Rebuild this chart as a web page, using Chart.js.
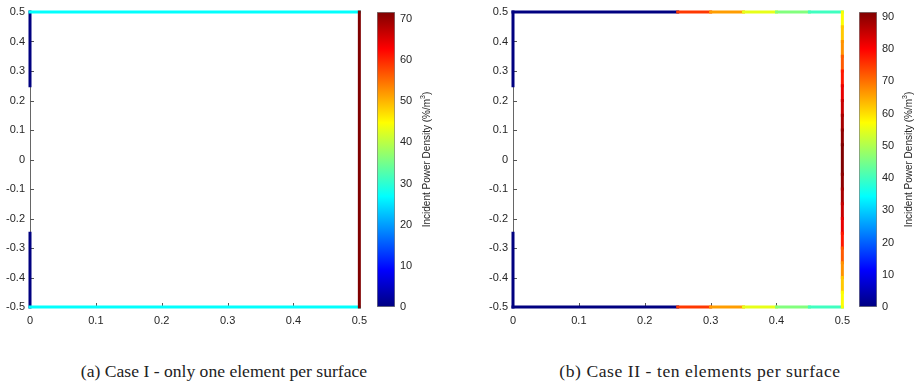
<!DOCTYPE html>
<html>
<head>
<meta charset="utf-8">
<script src="https://cdn.jsdelivr.net/npm/chart.js@4/dist/chart.umd.min.js"></script>
<style>
body{margin:0;width:915px;height:384px;overflow:hidden;background:#fff;position:relative}
.box{position:absolute;top:0;height:340px}
.cap{position:absolute;top:361px;font-family:"Liberation Serif",serif;font-size:17.6px;color:#222;white-space:nowrap;transform:translateX(-50%)}
</style>
</head>
<body>
<div class="box" style="left:0;width:374px"><canvas id="plotA"></canvas></div>
<div class="box" style="left:370px;width:70px"><canvas id="cbarA"></canvas></div>
<div class="box" style="left:483px;width:374px"><canvas id="plotB"></canvas></div>
<div class="box" style="left:852px;width:70px"><canvas id="cbarB"></canvas></div>
<div class="cap" style="left:224px">(a) Case I - only one element per surface</div>
<div class="cap" style="left:700px;letter-spacing:0.55px">(b) Case II - ten elements per surface</div>
<script>
// axis ticks
var xTicks = [0, 0.1, 0.2, 0.3, 0.4, 0.5];
var yTicks = [-0.5, -0.4, -0.3, -0.2, -0.1, 0, 0.1, 0.2, 0.3, 0.4, 0.5];
var cbTicksA = [0, 10, 20, 30, 40, 50, 60, 70];
var cbTicksB = [0, 10, 20, 30, 40, 50, 60, 70, 80, 90];
var cbMaxA = 71.7;
var cbMaxB = 91.5;
var cbLabel = ['Incident Power Density (%/m', '3', ')'];

// domain surfaces [x0, y0, x1, y1]
var edgeTop = [0, 0.5, 0.5, 0.5];
var edgeBottom = [0, -0.5, 0.5, -0.5];
var edgeRight = [0.5, 0.5, 0.5, -0.5];
var edgeLeftUpper = [0, 0.5, 0, 0.25];
var edgeLeftLower = [0, -0.25, 0, -0.5];

// Case I - one element per surface
var caseI_top = [27];
var caseI_bottom = [27];
var caseI_right = [71.7];
var caseI_leftUpper = [0];
var caseI_leftLower = [0];

// Case II - ten elements per surface (top->bottom / left->right)
var caseII_top = [0, 0, 0, 0, 0, 75, 66, 55, 46, 40];
var caseII_bottom = [0, 0, 0, 0, 0, 75, 66, 55, 46, 40];
var caseII_right = [57, 62, 67, 72, 78, 82, 85, 88, 90, 91.5,
                    91.5, 90, 88, 85, 82, 78, 72, 67, 62, 57];
var caseII_leftUpper = [0, 0, 0, 0, 0];
var caseII_leftLower = [0, 0, 0, 0, 0];

Chart.defaults.font.family = '"Liberation Sans", Arial, sans-serif';
Chart.defaults.font.size = 11;
Chart.defaults.color = '#262626';
Chart.defaults.animation = false;

function clamp(v){ return Math.max(0, Math.min(1, v)); }
function jet(t){
    t = clamp(t);
    var r = clamp(1.5 - Math.abs(4 * t - 3));
    var g = clamp(1.5 - Math.abs(4 * t - 2));
    var b = clamp(1.5 - Math.abs(4 * t - 1));
    return 'rgb(' + Math.round(r * 255) + ',' + Math.round(g * 255) + ',' + Math.round(b * 255) + ')';
}

function edgeSet(e, vals, max){
    var pts = [];
    for (var i = 0; i <= vals.length; i++) {
        var f = i / vals.length;
        pts.push({x: e[0] + (e[2] - e[0]) * f, y: e[1] + (e[3] - e[1]) * f});
    }
    return {
        data: pts,
        showLine: true,
        pointRadius: 0,
        borderWidth: 3,
        borderCapStyle: 'square',
        clip: false,
        borderColor: jet(vals[0] / max),
        segment: {
            borderColor: function(ctx){ return jet(vals[ctx.p0DataIndex] / max); }
        }
    };
}

// small inward ticks like matlab
var innerTicks = {
    id: 'innerTicks',
    beforeDatasetsDraw: function(chart){
        var c = chart.ctx, a = chart.chartArea;
        c.save();
        c.strokeStyle = '#555';
        c.lineWidth = 1;
        c.beginPath();
        xTicks.forEach(function(v){
            var px = Math.round(chart.scales.x.getPixelForValue(v)) + 0.5;
            c.moveTo(px, a.bottom); c.lineTo(px, a.bottom - 4);
        });
        yTicks.forEach(function(v){
            var py = Math.round(chart.scales.y.getPixelForValue(v)) + 0.5;
            c.moveTo(a.left, py); c.lineTo(a.left + 4, py);
        });
        c.stroke();
        c.restore();
    }
};

function makePlot(id, sets){
    new Chart(document.getElementById(id), {
        type: 'scatter',
        data: {datasets: sets},
        options: {
            responsive: true,
            maintainAspectRatio: false,
            layout: {padding: {top: 12, right: 11, left: 0, bottom: 0}},
            plugins: {legend: {display: false}, tooltip: {enabled: false}},
            scales: {
                x: {
                    min: 0, max: 0.5,
                    afterBuildTicks: function(s){ s.ticks = xTicks.map(function(v){ return {value: v}; }); },
                    afterFit: function(s){ s.height = 33; },
                    grid: {display: false, drawTicks: false},
                    border: {display: true, color: '#666', width: 1},
                    ticks: {padding: 7, maxRotation: 0}
                },
                y: {
                    min: -0.5, max: 0.5,
                    afterBuildTicks: function(s){ s.ticks = yTicks.map(function(v){ return {value: v}; }); },
                    afterFit: function(s){ s.width = 30; },
                    grid: {display: false, drawTicks: false},
                    border: {display: true, color: '#666', width: 1},
                    ticks: {padding: 5}
                }
            }
        },
        plugins: [innerTicks]
    });
}

var cbTitle = {
    id: 'cbTitle',
    afterDraw: function(chart){
        var c = chart.ctx, a = chart.chartArea;
        var big = '10px "Liberation Sans", Arial, sans-serif';
        var small = '7px "Liberation Sans", Arial, sans-serif';
        c.save();
        c.translate(a.right + 32, (a.top + a.bottom) / 2);
        c.rotate(-Math.PI / 2);
        c.textAlign = 'left';
        c.textBaseline = 'middle';
        c.fillStyle = '#262626';
        c.font = big;
        var w0 = c.measureText(cbLabel[0]).width, w2 = c.measureText(cbLabel[2]).width;
        c.font = small;
        var w1 = c.measureText(cbLabel[1]).width;
        var x = -(w0 + w1 + w2) / 2;
        c.font = big;
        c.fillText(cbLabel[0], x, 0);
        c.font = small;
        c.fillText(cbLabel[1], x + w0, -4);
        c.font = big;
        c.fillText(cbLabel[2], x + w0 + w1, 0);
        c.restore();
    }
};

function makeColorbar(id, max, ticks){
    new Chart(document.getElementById(id), {
        type: 'bar',
        data: {
            labels: [''],
            datasets: [{
                data: [[0, max]],
                barPercentage: 1,
                categoryPercentage: 1,
                borderWidth: 1,
                borderColor: '#808080',
                borderSkipped: false,
                backgroundColor: function(ctx){
                    var a = ctx.chart.chartArea;
                    if (!a) return '#888';
                    var g = ctx.chart.ctx.createLinearGradient(0, a.bottom, 0, a.top);
                    for (var i = 0; i <= 16; i++) g.addColorStop(i / 16, jet(i / 16));
                    return g;
                }
            }]
        },
        options: {
            responsive: true,
            maintainAspectRatio: false,
            layout: {padding: {top: 12, bottom: 33, left: 7, right: 0}},
            plugins: {legend: {display: false}, tooltip: {enabled: false}},
            scales: {
                x: {display: false},
                y: {
                    position: 'right',
                    min: 0, max: max,
                    afterBuildTicks: function(s){ s.ticks = ticks.map(function(v){ return {value: v}; }); },
                    afterFit: function(s){ s.width = 45; },
                    grid: {display: false, drawTicks: false},
                    border: {display: false},
                    ticks: {padding: 5}
                }
            }
        },
        plugins: [cbTitle]
    });
}

makePlot('plotA', [
    edgeSet(edgeRight, caseI_right, cbMaxA),
    edgeSet(edgeTop, caseI_top, cbMaxA),
    edgeSet(edgeBottom, caseI_bottom, cbMaxA),
    edgeSet(edgeLeftUpper, caseI_leftUpper, cbMaxA),
    edgeSet(edgeLeftLower, caseI_leftLower, cbMaxA)
]);
makeColorbar('cbarA', cbMaxA, cbTicksA);

makePlot('plotB', [
    edgeSet(edgeRight, caseII_right, cbMaxB),
    edgeSet(edgeTop, caseII_top, cbMaxB),
    edgeSet(edgeBottom, caseII_bottom, cbMaxB),
    edgeSet(edgeLeftUpper, caseII_leftUpper, cbMaxB),
    edgeSet(edgeLeftLower, caseII_leftLower, cbMaxB)
]);
makeColorbar('cbarB', cbMaxB, cbTicksB);
</script>
</body>
</html>
